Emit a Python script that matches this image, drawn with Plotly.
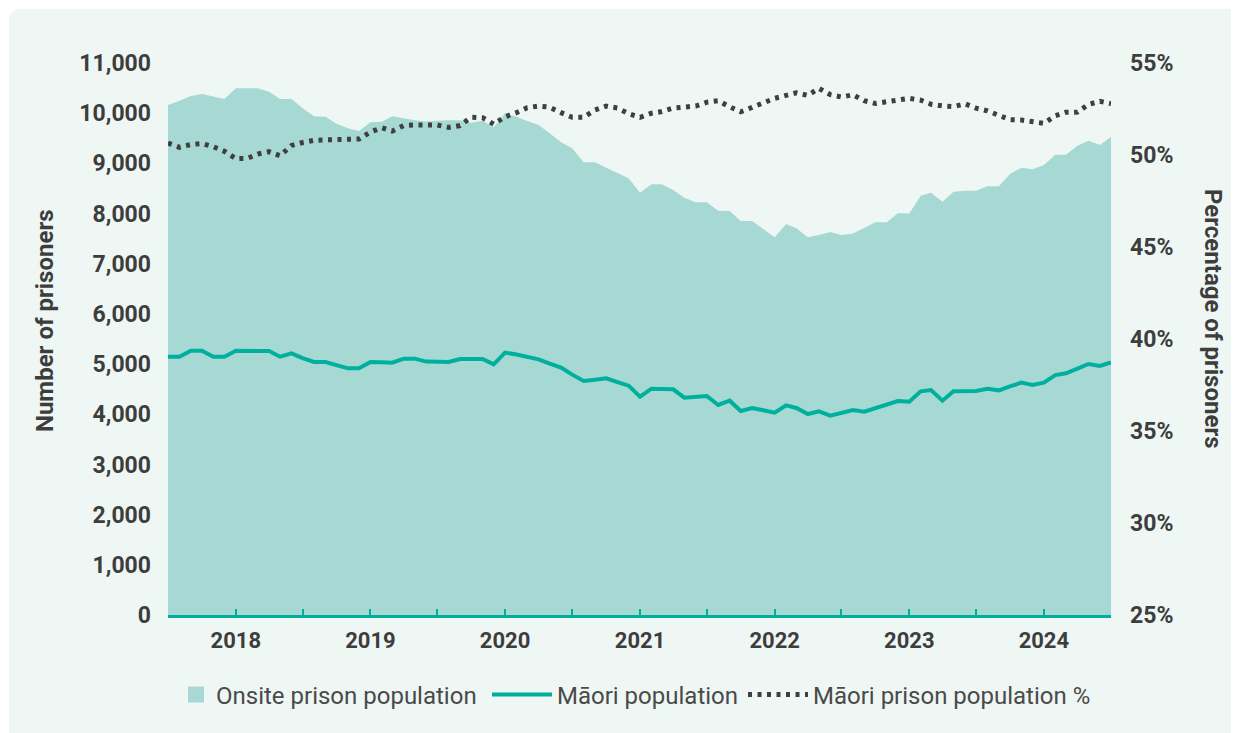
import pandas as pd
import plotly.graph_objects as go

# ---------------- data (monthly, Jul 2017 - Jul 2024) ----------------
months = pd.date_range("2017-07-01", periods=85, freq="MS")

onsite_population = [
    10163, 10250, 10340, 10380, 10330, 10283, 10496, 10496, 10496, 10429,
    10283, 10283, 10100, 9938, 9930, 9791, 9700, 9645, 9818, 9831,
    9938, 9897, 9860, 9835, 9848, 9857, 9857, 9811, 9851, 9718,
    9998, 9931, 9844, 9765, 9600, 9420, 9300, 9020, 9020, 8914,
    8810, 8702, 8416, 8583, 8583, 8469, 8317, 8224, 8224, 8057,
    8050, 7851, 7851, 7690, 7527, 7792, 7706, 7527, 7573, 7632,
    7573, 7600, 7710, 7826, 7826, 8005, 8000, 8356, 8416, 8237,
    8436, 8456, 8456, 8543, 8543, 8788, 8914, 8881, 8968, 9173,
    9173, 9353, 9452, 9366, 9532,
]

maori_population = [
    5148, 5148, 5267, 5267, 5148, 5148, 5267, 5267, 5267, 5260,
    5148, 5215, 5119, 5042, 5042, 4975, 4916, 4916, 5042, 5036,
    5028, 5108, 5108, 5050, 5040, 5042, 5102, 5102, 5102, 4996,
    5228, 5190, 5150, 5095, 5010, 4929, 4790, 4663, 4690, 4716,
    4640, 4570, 4351, 4510, 4505, 4497, 4331, 4345, 4364, 4185,
    4271, 4065, 4125, 4080, 4032, 4178, 4125, 4005, 4059, 3972,
    4030, 4085, 4052, 4120, 4190, 4265, 4252, 4458, 4484, 4271,
    4458, 4461, 4464, 4510, 4477, 4555, 4630, 4583, 4630, 4780,
    4816, 4910, 5002, 4962, 5036,
]

maori_pct = [
    50.65, 50.42, 50.57, 50.62, 50.45, 50.20, 49.80, 49.82, 50.05, 50.18,
    49.96, 50.52, 50.68, 50.80, 50.82, 50.82, 50.82, 50.87, 51.25, 51.48,
    51.30, 51.60, 51.63, 51.63, 51.63, 51.50, 51.60, 52.05, 52.03, 51.68,
    52.08, 52.30, 52.57, 52.66, 52.60, 52.30, 52.05, 52.05, 52.45, 52.66,
    52.55, 52.25, 52.05, 52.27, 52.36, 52.55, 52.60, 52.66, 52.87, 52.95,
    52.62, 52.35, 52.59, 52.83, 53.08, 53.24, 53.38, 53.24, 53.62, 53.28,
    53.15, 53.27, 52.95, 52.80, 52.90, 52.93, 53.08, 52.98, 52.76, 52.67,
    52.63, 52.78, 52.55, 52.40, 52.18, 51.92, 51.90, 51.80, 51.72, 52.13,
    52.32, 52.33, 52.75, 52.92, 52.79,
]

x_tick_vals = pd.date_range("2017-07-01", "2024-07-01", freq="6MS")
x_tick_text = [str(d.year) if d.month == 1 else "" for d in x_tick_vals]

left_ticks = list(range(0, 11001, 1000))
right_ticks = [25, 30, 35, 40, 45, 50, 55]

# ---------------- style ----------------
AREA = "#a6d9d4"
TEAL = "#00b09e"
DOTS = "#3f3f3f"
TEXT = "#3d3d3d"
PANEL = "#eff7f4"
FONT = "Roboto"

# page body adds an 8px margin; the figure is sized to fit the window
OFF = 8
W, H = 1239 - OFF, 733 - OFF
L, R, T, B = 160, 128, 55, 118
pw, ph = W - L - R, H - T - B


def px_x(v):
    """window pixel -> paper x"""
    return (v - OFF - L) / pw


def px_y(v):
    """window pixel -> paper y"""
    return (H - B - (v - OFF)) / ph


fig = go.Figure()

fig.add_trace(go.Scatter(
    x=months, y=onsite_population, name="Onsite prison population",
    mode="none", fill="tozeroy", fillcolor=AREA, showlegend=False,
))
# legend-only entry with a square swatch
fig.add_trace(go.Scatter(
    x=[None], y=[None], name="Onsite prison population",
    mode="markers", marker=dict(symbol="square", size=18, color=AREA),
    legend="legend2",
))
fig.add_trace(go.Scatter(
    x=months, y=maori_population, name="Māori population",
    mode="lines", line=dict(color=TEAL, width=4),
))
fig.add_trace(go.Scatter(
    x=months, y=maori_pct, name="Māori prison population %",
    mode="lines", yaxis="y2",
    line=dict(color=DOTS, width=5, dash="4px,5.5px"),
))

# rounded background panel
x0, x1 = px_x(9), px_x(1239 + 20)
y0, y1 = px_y(733 + 20), px_y(9)
rx, ry = 12 / pw, 12 / ph
panel_path = (
    f"M {x0 + rx},{y1} L {x1},{y1} L {x1},{y0} L {x0 + rx},{y0} "
    f"Q {x0},{y0} {x0},{y0 + ry} L {x0},{y1 - ry} Q {x0},{y1} {x0 + rx},{y1} Z"
)

tick_font = dict(family=FONT, size=23, color=TEXT, weight="bold")
legend_font = dict(family=FONT, size=24, color="#4a4a4a")

fig.update_layout(
    width=W, height=H,
    margin=dict(l=L, r=R, t=T, b=B),
    paper_bgcolor="white",
    plot_bgcolor="rgba(0,0,0,0)",
    font=dict(family=FONT, color=TEXT),
    showlegend=True,
    legend=dict(
        orientation="h", x=px_x(487), xanchor="left",
        y=px_y(695), yanchor="middle",
        font=legend_font, itemwidth=60, bgcolor="rgba(0,0,0,0)",
        traceorder="normal",
    ),
    legend2=dict(
        orientation="h", x=px_x(176), xanchor="left",
        y=px_y(695), yanchor="middle",
        font=legend_font, itemwidth=30, bgcolor="rgba(0,0,0,0)",
    ),
    shapes=[dict(
        type="path", path=panel_path, xref="paper", yref="paper",
        fillcolor=PANEL, line=dict(width=0), layer="below",
    )],
    xaxis=dict(
        range=[months[0], months[-1]],
        tickmode="array", tickvals=list(x_tick_vals), ticktext=x_tick_text,
        ticks="inside", ticklen=6, tickwidth=2, tickcolor=TEAL,
        showline=True, linecolor=TEAL, linewidth=2.5,
        showgrid=False, zeroline=False,
        tickfont=dict(family=FONT, size=22, color=TEXT, weight="bold"),
        ticklabelstandoff=4,
    ),
    yaxis=dict(
        range=[0, 11000], tickmode="array", tickvals=left_ticks,
        ticktext=[f"{v:,}" for v in left_ticks],
        showgrid=False, zeroline=False, showline=False, ticks="",
        tickfont=tick_font, ticklabelstandoff=16,
    ),
    yaxis2=dict(
        range=[25, 55], overlaying="y", side="right",
        tickmode="array", tickvals=right_ticks,
        ticktext=[f"{v}%" for v in right_ticks],
        showgrid=False, zeroline=False, showline=False, ticks="",
        tickfont=tick_font, ticklabelstandoff=18,
    ),
    annotations=[
        dict(text="Number of prisoners", xref="paper", yref="paper",
             x=px_x(45), y=px_y(321), textangle=-90, showarrow=False,
             xanchor="center", yanchor="middle",
             font=dict(family=FONT, size=24, color=TEXT, weight="bold")),
        dict(text="Percentage of prisoners", xref="paper", yref="paper",
             x=px_x(1213), y=px_y(319), textangle=90, showarrow=False,
             xanchor="center", yanchor="middle",
             font=dict(family=FONT, size=24, color=TEXT, weight="bold")),
    ],
)

fig.write_html("out.html")
